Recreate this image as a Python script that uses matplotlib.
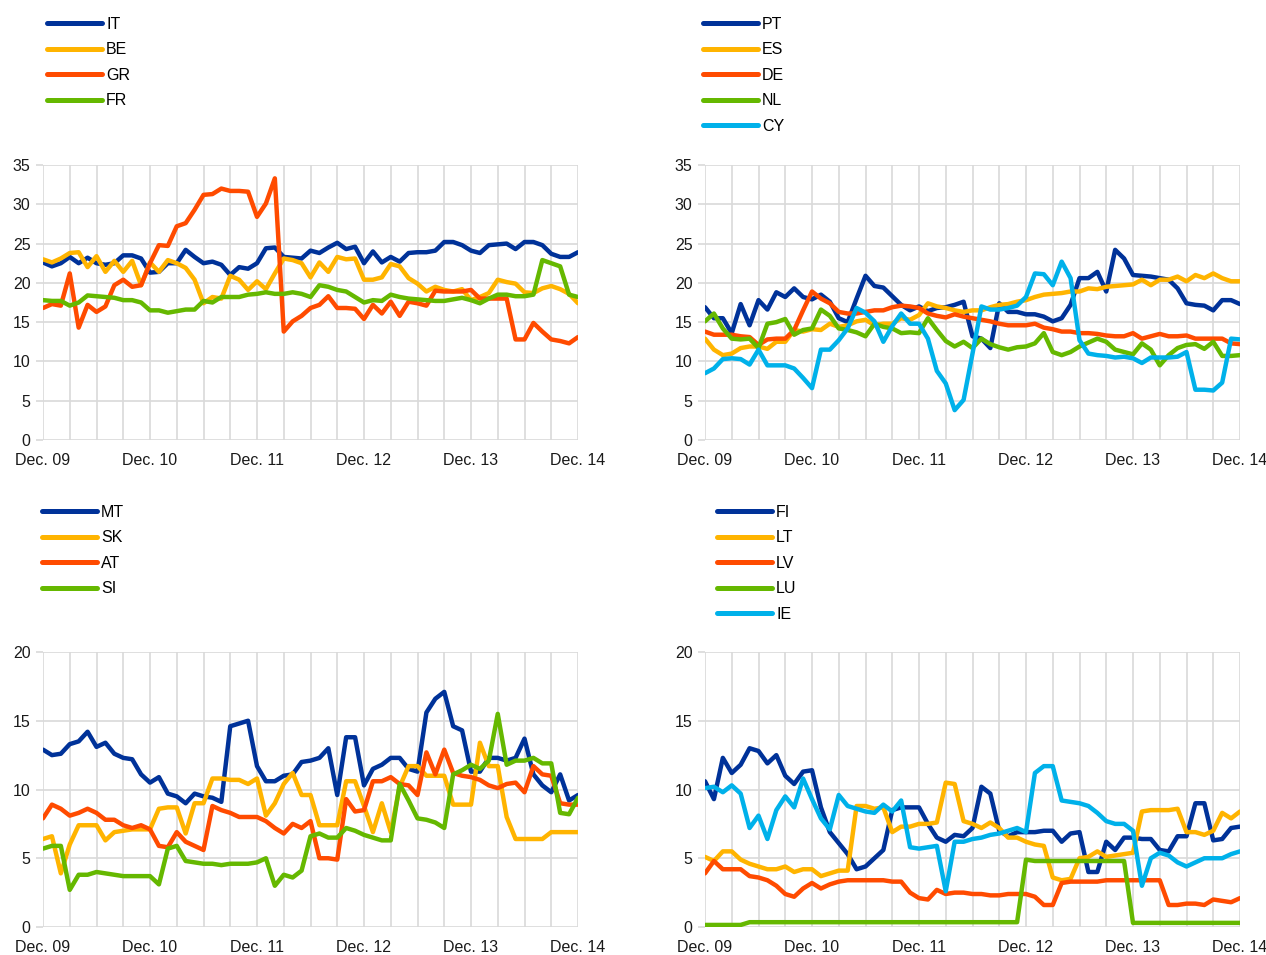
import numpy as np
import matplotlib
matplotlib.use('Agg')
import matplotlib.pyplot as plt

plt.rcParams['font.family'] = ['Liberation Sans', 'DejaVu Sans']

# Monthly observations, Dec. 09 .. Dec. 14 (61 months)
months = np.arange(61)
tick_pos = [0, 12, 24, 36, 48, 60]
tick_labels = ['Dec. 09', 'Dec. 10', 'Dec. 11', 'Dec. 12', 'Dec. 13', 'Dec. 14']

# Panel 1
IT = [22.6, 22.1, 22.5, 23.3, 22.5, 23.2, 22.5, 22.3, 22.5, 23.5, 23.5, 23.1, 21.3, 21.4, 22.5, 22.5,
      24.2, 23.3, 22.5, 22.7, 22.3, 21.0, 22.0, 21.8, 22.5, 24.4, 24.5, 23.3, 23.2, 23.1, 24.1, 23.8,
      24.5, 25.1, 24.3, 24.6, 22.5, 24.0, 22.6, 23.3, 22.7, 23.8, 23.9, 23.9, 24.1, 25.2, 25.2, 24.8,
      24.1, 23.8, 24.8, 24.9, 25.0, 24.3, 25.2, 25.2, 24.8, 23.7, 23.3, 23.3, 23.9]
BE = [23.0, 22.6, 23.1, 23.8, 23.9, 22.0, 23.4, 21.4, 22.8, 21.4, 22.8, 19.7, 22.6, 21.4, 22.9, 22.5,
      21.9, 20.4, 17.4, 18.2, 18.0, 20.9, 20.4, 19.1, 20.2, 19.2, 21.2, 23.1, 22.9, 22.5, 20.7, 22.6,
      21.4, 23.3, 23.0, 23.1, 20.4, 20.4, 20.7, 22.4, 22.1, 20.6, 19.9, 18.9, 19.5, 19.1, 18.9, 19.2,
      17.8, 18.2, 18.7, 20.4, 20.1, 19.9, 18.8, 18.7, 19.3, 19.6, 19.2, 18.6, 17.4]
GR = [16.8, 17.3, 17.1, 21.2, 14.3, 17.2, 16.3, 17.0, 19.7, 20.4, 19.5, 19.7, 22.5, 24.8, 24.7, 27.2,
      27.6, 29.3, 31.2, 31.3, 32.0, 31.7, 31.7, 31.6, 28.4, 30.1, 33.3, 13.8, 15.1, 15.8, 16.8, 17.2,
      18.3, 16.8, 16.8, 16.7, 15.4, 17.2, 16.1, 17.6, 15.8, 17.6, 17.4, 17.1, 19.0, 18.9, 18.9, 18.9,
      19.1, 18.0, 18.0, 18.0, 18.0, 12.8, 12.8, 14.9, 13.8, 12.8, 12.6, 12.3, 13.1]
FR = [17.8, 17.7, 17.7, 17.1, 17.5, 18.4, 18.3, 18.2, 18.1, 17.8, 17.8, 17.5, 16.5, 16.5, 16.2, 16.4,
      16.6, 16.6, 17.7, 17.5, 18.2, 18.2, 18.2, 18.5, 18.6, 18.8, 18.6, 18.6, 18.8, 18.6, 18.2, 19.7,
      19.5, 19.1, 18.9, 18.2, 17.5, 17.8, 17.7, 18.5, 18.2, 18.0, 17.9, 17.8, 17.7, 17.7, 17.9, 18.1,
      17.8, 17.4, 18.0, 18.5, 18.5, 18.3, 18.3, 18.5, 22.9, 22.5, 22.1, 18.5, 18.2]

# Panel 2
PT = [16.9, 15.5, 15.5, 13.6, 17.3, 14.6, 17.8, 16.6, 18.8, 18.2, 19.3, 18.2, 17.9, 18.5, 17.6, 15.5,
      15.0, 18.0, 20.9, 19.6, 19.4, 18.3, 17.2, 16.5, 17.0, 16.4, 16.8, 16.9, 17.2, 17.6, 13.2, 12.9,
      11.7, 17.4, 16.3, 16.3, 16.0, 16.0, 15.7, 15.1, 15.5, 17.2, 20.6, 20.6, 21.4, 18.9, 24.2, 23.1,
      21.0, 20.9, 20.8, 20.6, 20.4, 19.3, 17.4, 17.2, 17.1, 16.5, 17.8, 17.8, 17.3]
ES = [12.9, 11.5, 10.8, 11.0, 11.7, 11.9, 11.9, 11.6, 12.5, 12.5, 14.0, 13.8, 14.1, 14.0, 14.8, 14.4,
      14.6, 15.1, 15.3, 14.6, 14.8, 14.8, 15.5, 15.3, 15.9, 17.4, 17.0, 16.8, 16.5, 16.3, 16.5, 16.5,
      16.9, 17.2, 17.3, 17.6, 17.8, 18.2, 18.5, 18.6, 18.7, 18.9, 18.9, 19.3, 19.2, 19.5, 19.6, 19.7,
      19.8, 20.4, 19.7, 20.4, 20.4, 20.8, 20.2, 21.0, 20.6, 21.2, 20.6, 20.2, 20.2]
DE = [13.8, 13.4, 13.4, 13.4, 13.2, 13.1, 12.1, 12.8, 12.9, 12.9, 14.0, 16.5, 18.9, 18.0, 17.4, 16.3,
      16.1, 16.1, 16.3, 16.5, 16.5, 16.9, 17.1, 17.0, 16.8, 16.1, 15.8, 15.6, 16.0, 15.7, 15.5, 15.3,
      15.1, 14.8, 14.6, 14.6, 14.6, 14.8, 14.3, 14.1, 13.8, 13.8, 13.6, 13.6, 13.5, 13.3, 13.2, 13.2,
      13.6, 12.9, 13.2, 13.5, 13.2, 13.2, 13.3, 12.9, 12.9, 12.9, 12.9, 12.3, 12.2]
NL = [15.1, 16.1, 14.2, 12.9, 12.8, 12.9, 11.7, 14.8, 15.0, 15.4, 13.4, 14.0, 14.2, 16.6, 15.8, 14.2,
      14.0, 13.7, 13.2, 14.8, 14.4, 14.2, 13.6, 13.7, 13.6, 15.5, 14.0, 12.6, 11.9, 12.5, 11.7, 12.9,
      12.2, 11.8, 11.5, 11.8, 11.9, 12.3, 13.6, 11.2, 10.8, 11.2, 11.9, 12.4, 12.9, 12.5, 11.5, 11.2,
      10.9, 12.3, 11.5, 9.5, 10.8, 11.7, 12.1, 12.2, 11.6, 12.5, 10.7, 10.7, 10.8]
CY = [8.5, 9.1, 10.3, 10.4, 10.3, 9.6, 11.5, 9.5, 9.5, 9.5, 9.1, 7.9, 6.6, 11.5, 11.5, 12.7,
      14.2, 16.8, 16.2, 15.1, 12.5, 14.5, 16.1, 14.8, 14.8, 12.9, 8.8, 7.2, 3.8, 5.1, 11.0, 17.0,
      16.6, 16.6, 16.8, 17.1, 18.2, 21.2, 21.1, 19.7, 22.7, 20.6, 12.7, 11.0, 10.8, 10.7, 10.5, 10.6,
      10.4, 9.8, 10.5, 10.5, 10.5, 10.6, 11.2, 6.4, 6.4, 6.3, 7.3, 12.9, 12.8]

# Panel 3
MT = [12.9, 12.5, 12.6, 13.3, 13.5, 14.2, 13.1, 13.4, 12.6, 12.3, 12.2, 11.1, 10.5, 10.9, 9.7, 9.5,
      9.0, 9.7, 9.5, 9.4, 9.1, 14.6, 14.8, 15.0, 11.7, 10.6, 10.6, 11.0, 11.1, 12.0, 12.1, 12.3,
      13.0, 9.6, 13.8, 13.8, 10.3, 11.5, 11.8, 12.3, 12.3, 11.5, 11.3, 15.6, 16.6, 17.1, 14.6, 14.3,
      11.3, 11.3, 12.3, 12.3, 12.1, 12.3, 13.7, 11.1, 10.3, 9.8, 11.1, 9.2, 9.6]
SK = [6.4, 6.6, 3.9, 6.0, 7.4, 7.4, 7.4, 6.3, 6.9, 7.0, 7.1, 7.1, 7.1, 8.6, 8.7, 8.7,
      6.8, 9.0, 9.0, 10.8, 10.8, 10.7, 10.7, 10.4, 10.8, 8.1, 9.0, 10.4, 11.2, 9.6, 9.6, 7.4,
      7.4, 7.4, 10.6, 10.6, 8.8, 6.9, 9.0, 6.9, 10.2, 11.7, 11.7, 11.0, 11.0, 11.0, 8.9, 8.9,
      8.9, 13.4, 11.7, 11.7, 8.0, 6.4, 6.4, 6.4, 6.4, 6.9, 6.9, 6.9, 6.9]
AT = [7.9, 8.9, 8.6, 8.1, 8.3, 8.6, 8.3, 7.8, 7.8, 7.4, 7.2, 7.4, 7.1, 5.9, 5.8, 6.9,
      6.2, 5.9, 5.6, 8.8, 8.5, 8.3, 8.0, 8.0, 8.0, 7.7, 7.2, 6.8, 7.5, 7.2, 7.7, 5.0,
      5.0, 4.9, 9.3, 8.4, 8.5, 10.6, 10.6, 10.9, 10.4, 10.3, 9.6, 12.7, 11.1, 12.9, 11.2, 11.0,
      10.9, 10.7, 10.3, 10.1, 10.4, 10.5, 9.8, 11.7, 11.1, 11.0, 9.0, 8.9, 8.9]
SI = [5.7, 5.9, 5.9, 2.7, 3.8, 3.8, 4.0, 3.9, 3.8, 3.7, 3.7, 3.7, 3.7, 3.1, 5.7, 5.9,
      4.8, 4.7, 4.6, 4.6, 4.5, 4.6, 4.6, 4.6, 4.7, 5.0, 3.0, 3.8, 3.6, 4.1, 6.6, 6.8,
      6.5, 6.5, 7.2, 7.0, 6.7, 6.5, 6.3, 6.3, 10.4, 9.2, 7.9, 7.8, 7.6, 7.2, 11.1, 11.4,
      11.8, 11.5, 12.1, 15.5, 11.8, 12.1, 12.1, 12.3, 11.9, 11.9, 8.3, 8.2, 9.4]

# Panel 4
FI = [10.6, 9.3, 12.3, 11.2, 11.8, 13.0, 12.8, 11.9, 12.5, 11.0, 10.4, 11.3, 11.4, 8.7, 6.9, 6.1,
      5.3, 4.2, 4.4, 5.0, 5.6, 8.5, 8.7, 8.7, 8.7, 7.5, 6.5, 6.2, 6.7, 6.6, 7.2, 10.2,
      9.7, 7.0, 6.6, 6.9, 6.9, 6.9, 7.0, 7.0, 6.2, 6.8, 6.9, 4.0, 4.0, 6.2, 5.6, 6.5,
      6.5, 6.4, 6.4, 5.6, 5.5, 6.6, 6.6, 9.0, 9.0, 6.3, 6.4, 7.2, 7.3]
LT = [5.1, 4.8, 5.5, 5.5, 4.9, 4.6, 4.4, 4.2, 4.2, 4.4, 4.0, 4.2, 4.2, 3.7, 3.9, 4.1,
      4.1, 8.8, 8.8, 8.6, 8.7, 6.9, 7.3, 7.3, 7.5, 7.5, 7.6, 10.5, 10.4, 7.7, 7.5, 7.2,
      7.6, 7.2, 6.5, 6.5, 6.2, 6.0, 5.9, 3.6, 3.4, 3.5, 5.0, 5.1, 5.5, 5.1, 5.2, 5.3,
      5.4, 8.4, 8.5, 8.5, 8.5, 8.6, 6.9, 6.9, 6.7, 7.0, 8.3, 7.9, 8.4]
LV = [3.9, 4.8, 4.2, 4.2, 4.2, 3.7, 3.6, 3.4, 3.0, 2.4, 2.2, 2.8, 3.2, 2.8, 3.1, 3.3,
      3.4, 3.4, 3.4, 3.4, 3.4, 3.3, 3.3, 2.5, 2.1, 2.0, 2.7, 2.4, 2.5, 2.5, 2.4, 2.4,
      2.3, 2.3, 2.4, 2.4, 2.4, 2.2, 1.6, 1.6, 3.2, 3.3, 3.3, 3.3, 3.3, 3.4, 3.4, 3.4,
      3.4, 3.4, 3.4, 3.4, 1.6, 1.6, 1.7, 1.7, 1.6, 2.0, 1.9, 1.8, 2.1]
LU = [0.15, 0.15, 0.15, 0.15, 0.15, 0.35, 0.35, 0.35, 0.35, 0.35, 0.35, 0.35, 0.35, 0.35, 0.35, 0.35,
      0.35, 0.35, 0.35, 0.35, 0.35, 0.35, 0.35, 0.35, 0.35, 0.35, 0.35, 0.35, 0.35, 0.35, 0.35, 0.35,
      0.35, 0.35, 0.35, 0.35, 4.9, 4.8, 4.8, 4.8, 4.8, 4.8, 4.8, 4.8, 4.8, 4.8, 4.8, 4.8,
      0.3, 0.3, 0.3, 0.3, 0.3, 0.3, 0.3, 0.3, 0.3, 0.3, 0.3, 0.3, 0.3]
IE = [10.1, 10.2, 9.8, 10.3, 9.7, 7.2, 8.1, 6.4, 8.5, 9.5, 8.7, 10.8, 9.3, 7.9, 7.1, 9.6,
      8.8, 8.6, 8.4, 8.3, 8.9, 8.4, 9.2, 5.8, 5.7, 5.8, 5.9, 2.6, 6.2, 6.2, 6.4, 6.5,
      6.7, 6.8, 7.0, 7.2, 6.9, 11.2, 11.7, 11.7, 9.2, 9.1, 9.0, 8.8, 8.3, 7.7, 7.5, 7.5,
      7.0, 3.0, 5.0, 5.4, 5.2, 4.7, 4.4, 4.7, 5.0, 5.0, 5.0, 5.3, 5.5]

blue = '#003299'
yellow = '#FFB400'
red = '#FF4B00'
green = '#65B800'
cyan = '#00B1EA'

W, H = 1266, 955
fig = plt.figure(figsize=(W / 100, H / 100), dpi=100)

panels = [
    # (left, top, right, bottom) in pixels, ymax, series, legend anchor (x, y)
    ((43, 165, 578, 440), 35, [('IT', IT, blue), ('BE', BE, yellow), ('GR', GR, red), ('FR', FR, green)], (47, 17)),
    ((705, 165, 1240, 440), 35, [('PT', PT, blue), ('ES', ES, yellow), ('DE', DE, red), ('NL', NL, green),
                                 ('CY', CY, cyan)], (703, 17)),
    ((43, 652, 578, 927), 20, [('MT', MT, blue), ('SK', SK, yellow), ('AT', AT, red), ('SI', SI, green)], (42, 505)),
    ((705, 652, 1240, 927), 20, [('FI', FI, blue), ('LT', LT, yellow), ('LV', LV, red), ('LU', LU, green),
                                 ('IE', IE, cyan)], (717, 505)),
]

grid_col = '#d9d9d9'
for (l, t, r, b), ymax, series, (lx, ly) in panels:
    ax = fig.add_axes([l / W, 1 - b / H, (r - l) / W, (b - t) / H])
    handles = []
    for name, vals, col in series:
        h, = ax.plot(months, vals, color=col, lw=3.2, label=name, solid_capstyle='round',
                     solid_joinstyle='round')
        handles.append(h)
    ax.set_xlim(0, 60)
    ax.set_ylim(0, ymax)
    ax.set_yticks(np.arange(0, ymax + 1, 5))
    ax.set_xticks(tick_pos)
    ax.set_xticklabels(tick_labels)
    ax.set_xticks(np.arange(0, 61, 3), minor=True)
    ax.grid(True, which='both', axis='x', color=grid_col, lw=1.2)
    ax.grid(True, which='major', axis='y', color=grid_col, lw=1.2)
    ax.set_axisbelow(True)
    for s in ax.spines.values():
        s.set_visible(False)
    ax.tick_params(axis='y', length=5, width=1.2, color=grid_col, pad=4, labelsize=11.5, labelcolor='#1a1a1a')
    ax.tick_params(axis='x', which='both', length=0, pad=9, labelsize=11.5, labelcolor='#1a1a1a')
    leg = fig.legend(handles=handles, loc='upper left', bbox_to_anchor=(lx / W, 1 - ly / H),
                     frameon=False, fontsize=11.5, handlelength=3.45, handletextpad=0.25,
                     labelspacing=0.65, borderpad=0, borderaxespad=0)
    for lh in leg.get_lines():
        lh.set_linewidth(3.6)

fig.savefig('out.png', dpi=100)
